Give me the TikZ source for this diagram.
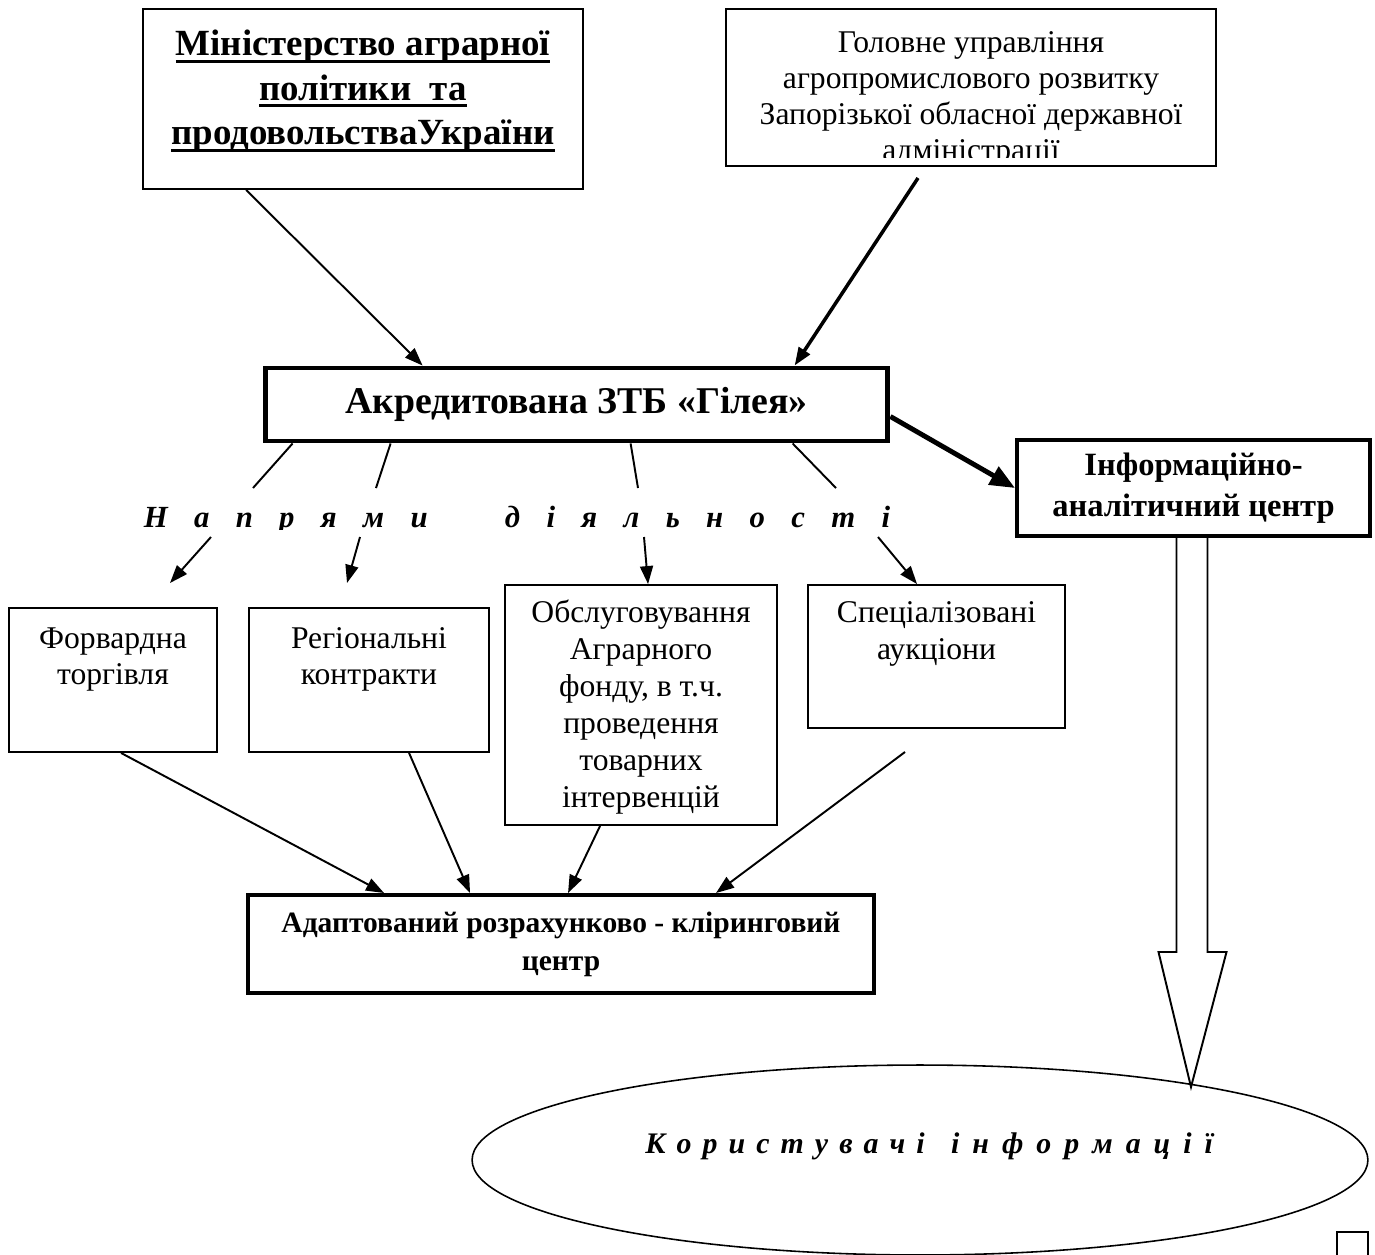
\documentclass[tikz,border=0pt]{standalone}
\usepackage{fontspec}
\setmainfont{Liberation Serif}
\usetikzlibrary{positioning, arrows.meta, calc, shapes.geometric}

% text block with a fixed size, set from the top
\newcommand{\topbox}[4]{\parbox[c][#2][t]{#1}{\centering\rule{0pt}{#3}#4}}
\newcommand{\uln}[1]{\leavevmode\setbox0\hbox{#1}\rlap{\rule[-3.8pt]{\wd0}{1.6pt}}\box0}

\begin{document}
\begin{tikzpicture}[x=0.02cm, y=-0.02cm, every node/.style={font=\fontsize{18}{21}\selectfont}]
  \tikzstyle{box} = [rectangle, draw=black, line width=1.1pt, inner sep=0pt]
  \tikzstyle{heavy} = [rectangle, draw=black, line width=2.3pt, inner sep=0pt, align=center, font=\bfseries\fontsize{18.5}{23}\selectfont]
  \tikzstyle{arrow} = [line width=1.1pt, -{Triangle[length=0.36cm, width=0.26cm]}]
  \tikzstyle{branch} = [line width=1.1pt]
  \tikzstyle{spaced} = [font=\bfseries\itshape\fontsize{17.5}{20}\selectfont, inner sep=0pt]

  \useasboundingbox (0,0) rectangle (1375,1254);

  \node (mins) [box, font=\bfseries\fontsize{21}{25.3}\selectfont] at (363,99) {\topbox{8.8cm}{3.6cm}{26.7pt}{\uln{Міністерство аграрної}\\\uln{політики~ та}\\\uln{продовольстваУкраїни}}};
  \node (head) [box, minimum width=9.8cm, minimum height=3.14cm] at (971,87.5) {};
  \begin{scope}
    \clip (head.north west) rectangle ($(head.south east)+(0,-9)$);
    \node (headtext) [inner sep=0pt, anchor=north, font=\fontsize{18}{20.5}\selectfont] at (head.north) {\topbox{9.8cm}{3.1cm}{25pt}{Головне управління\\агропромислового розвитку\\Запорізької обласної державної\\адміністрації}};
  \end{scope}

  \node (ztb) [heavy, line width=2.8pt, minimum width=12.46cm, minimum height=1.46cm, font=\bfseries\fontsize{21.5}{26}\selectfont] at (576.5,404.5) {Акредитована ЗТБ «Гілея»};
  \node (info) [heavy, minimum width=7.06cm, minimum height=1.92cm] at (1193.5,488) {Інформаційно-\\аналітичний центр};

  \begin{scope}
    \clip (0,480) rectangle (1000,529);
    \node (dirs) [spaced, anchor=base] at (517,527) {{\spaceskip=15pt Н а п р я м и\hspace{44pt}д і я л ь н о с т і}};
  \end{scope}

  \node (fwd) [box] at (113,680) {\topbox{4.16cm}{2.88cm}{22.8pt}{Форвардна\\торгівля}};
  \node (reg) [box] at (369,680) {\topbox{4.8cm}{2.88cm}{22.8pt}{Регіональні\\контракти}};
  \node (fund) [box] at (641,705) {\topbox{5.44cm}{4.8cm}{21.6pt}{Обслуговування\\Аграрного\\фонду, в т.ч.\\проведення\\товарних\\інтервенцій}};
  \node (spec) [box] at (936.5,656.5) {\topbox{5.14cm}{2.86cm}{21.6pt}{Спеціалізовані\\аукціони}};

  \node (clear) [heavy, minimum width=12.52cm, minimum height=1.96cm, font=\bfseries\fontsize{16.8}{21.5}\selectfont] at (561,944) {Адаптований розрахунково - кліринговий\\центр};

  \node (users) [ellipse, draw, line width=0.9pt, minimum width=17.92cm, minimum height=3.8cm, inner sep=0pt] at (920,1160) {};
  \node (userstext) [spaced, font=\bfseries\itshape\fontsize{17}{20}\selectfont, anchor=base west] at (645,1153) {{\spaceskip=6.3pt К о р и с т у в а ч і}\hspace{15pt}{\spaceskip=7.4pt і н ф о р м а ц і ї}};

  % free ends
  \coordinate (hs) at (918,178);
  \coordinate (d1) at (253,488);
  \coordinate (d2) at (376,488);
  \coordinate (d3) at (638,488);
  \coordinate (d4) at (836,488);
  \coordinate (e1) at (211,537);
  \coordinate (e2) at (360,537);
  \coordinate (e3) at (644,537);
  \coordinate (e4) at (878,537);
  \coordinate (f1) at (170,583);
  \coordinate (f2) at (347,583);
  \coordinate (ss) at (905,752);
  \coordinate (tip) at (1191,1087);

  \draw [arrow] ($(mins.south west)+(104,0)$) -- ($(ztb.north west)+(160,0)$);
  \draw [arrow, line width=2pt] (hs) -- ($(ztb.north west)+(532,0)$);
  \draw [arrow, line width=2.8pt, -{Triangle[length=0.5cm, width=0.4cm]}] ($(ztb.east)+(0,12)$) -- (info.west);

  \draw [branch] ($(ztb.south west)+(30,0)$) -- (d1);
  \draw [branch] ($(ztb.south west)+(128,0)$) -- (d2);
  \draw [branch] ($(ztb.south west)+(368,0)$) -- (d3);
  \draw [branch] ($(ztb.south west)+(530,0)$) -- (d4);
  \draw [arrow] (e1) -- (f1);
  \draw [arrow] (e2) -- (f2);
  \draw [arrow] (e3) -- ($(fund.north west)+(144,0)$);
  \draw [arrow] (e4) -- ($(spec.north west)+(110,0)$);

  \draw [arrow] ($(fwd.south west)+(113,0)$) -- ($(clear.north west)+(138,0)$);
  \draw [arrow] ($(reg.south west)+(161,0)$) -- ($(clear.north west)+(224,0)$);
  \draw [arrow] ($(fund.south west)+(96,0)$) -- ($(clear.north west)+(322,0)$);
  \draw [arrow] (ss) -- ($(clear.north west)+(470,0)$);

  \draw [line width=1.1pt] ($(info.south)+(-17,0)$) -- ++(0,414) -- ++(-18,0) -- (tip) -- ($(info.south)+(33,414)$) -- ++(-19,0) -- ($(info.south)+(14,0)$);

  \draw [line width=1.1pt] (1337,1262) -- (1337,1232) -- (1368,1232) -- (1368,1262);
\end{tikzpicture}
\end{document}
